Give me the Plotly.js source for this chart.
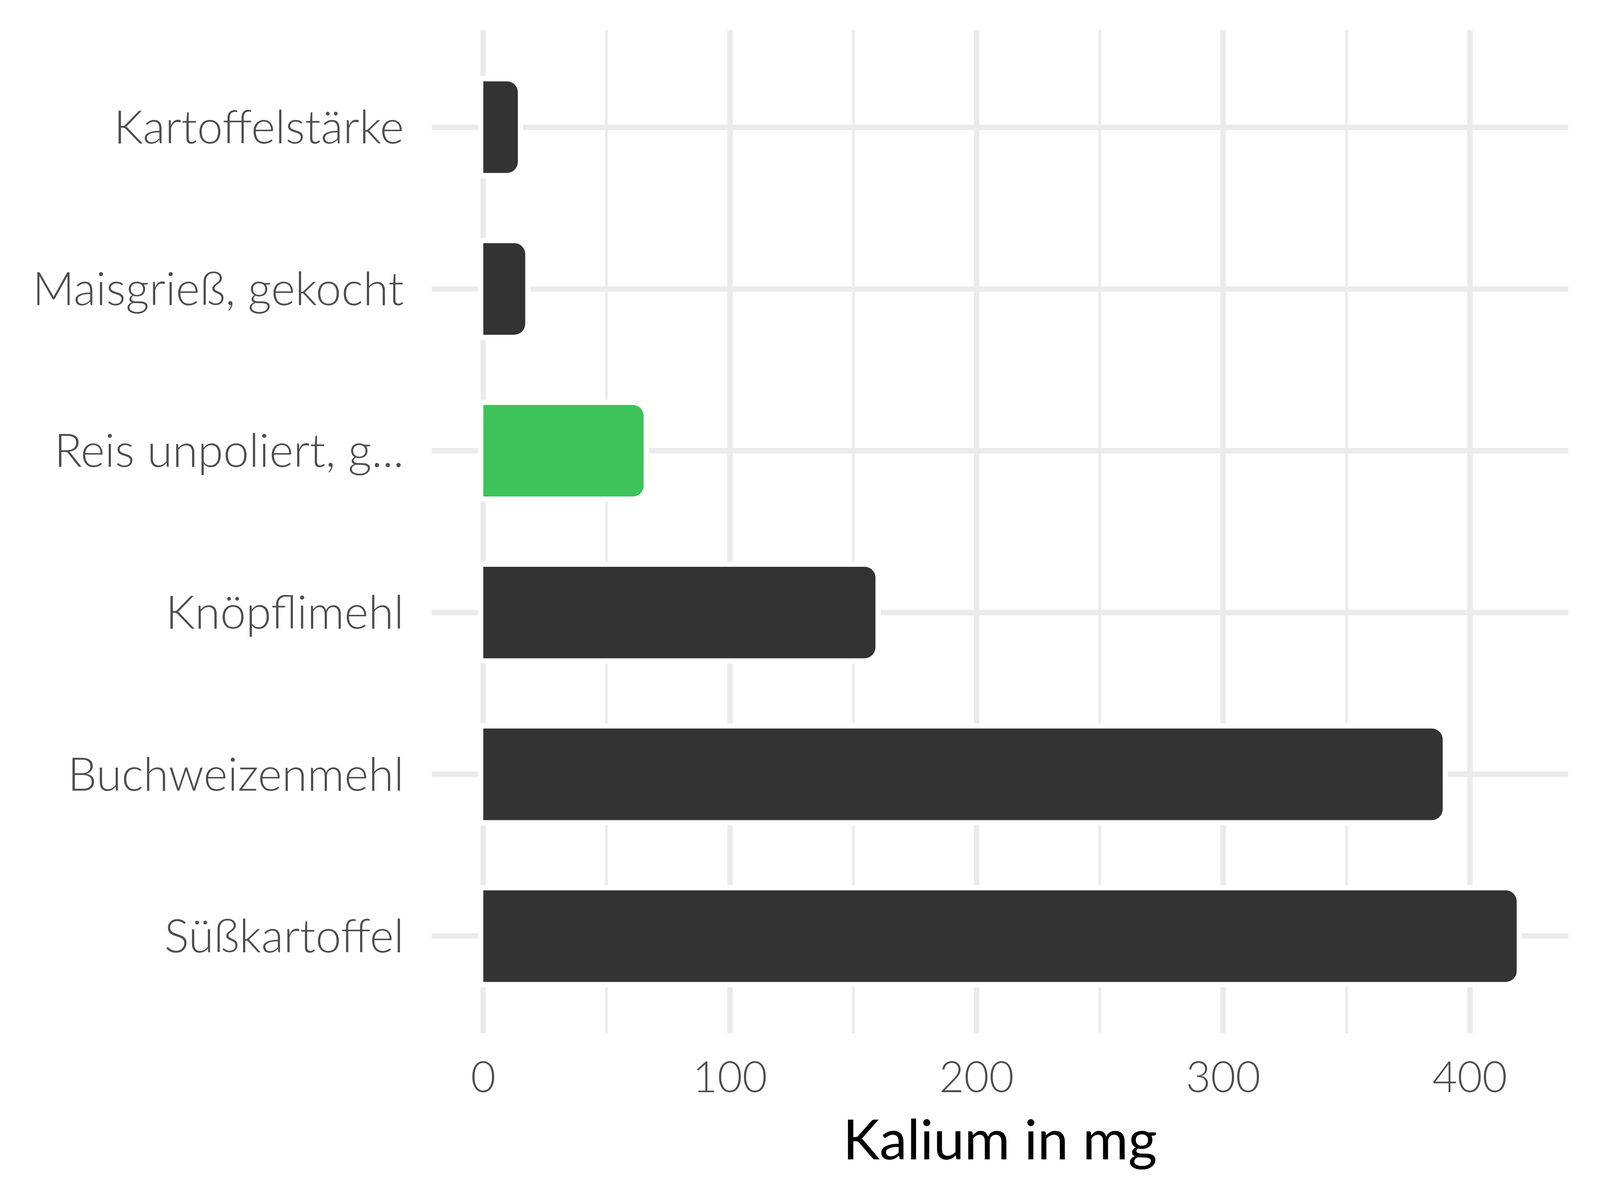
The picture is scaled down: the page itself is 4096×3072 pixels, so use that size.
<!DOCTYPE html>
<html>
<head>
<meta charset="utf-8">
<script src="https://cdn.plot.ly/plotly-3.0.1.min.js"></script>
<style>html,body{margin:0;padding:0;background:#fff;}#chart{width:4096px;height:3072px;}</style>
</head>
<body>
<div id="chart"></div>
<script>
const categories = ["Kartoffelstärke", "Maisgrieß, gekocht", "Reis unpoliert, g...", "Knöpflimehl", "Buchweizenmehl", "Süßkartoffel"];
const values = [14, 17, 65, 159, 389, 419];
const barColors = ["#333333", "#333333", "#3EC35A", "#333333", "#333333", "#333333"];
const xTickValues = [0, 100, 200, 300, 400];
const xTitle = "Kalium in mg";

const barWidth = 0.566;
const halo = {
  type: "bar", orientation: "h", x: values, y: categories, width: barWidth,
  marker: {color: "#FFFFFF", cornerradius: 28, line: {color: "#FFFFFF", width: 27}},
  hoverinfo: "skip", showlegend: false
};
const bars = {
  type: "bar", orientation: "h", x: values, y: categories, width: barWidth,
  marker: {color: barColors, cornerradius: 28, line: {width: 0}},
  showlegend: false
};
const layout = {
  width: 4096, height: 3072,
  paper_bgcolor: "#FFFFFF", plot_bgcolor: "#FFFFFF",
  margin: {l: 1105, r: 81, t: 77, b: 427, pad: 0},
  barmode: "overlay",
  showlegend: false,
  font: {family: "Lato, 'Open Sans', sans-serif", color: "#4D4D4D"},
  xaxis: {
    range: [-20.95, 439.95], tickvals: xTickValues, ticktext: xTickValues.map(String),
    showgrid: true, gridcolor: "#EBEBEB", gridwidth: 14, zeroline: false, showline: false,
    ticks: "", ticklabelstandoff: 40,
    tickfont: {size: 110, color: "#4D4D4D", family: "Lato, sans-serif", weight: 300},
    minor: {dtick: 50, tick0: 0, showgrid: true, gridcolor: "#EBEBEB", gridwidth: 7, ticks: ""},
    title: {text: xTitle, font: {size: 142, color: "#000000", family: "Lato, sans-serif"}, standoff: 50}
  },
  yaxis: {
    type: "category", categoryorder: "array", categoryarray: categories,
    range: [5.6, -0.6], showgrid: true, gridcolor: "#EBEBEB", gridwidth: 14,
    zeroline: false, showline: false, ticks: "", ticklabelstandoff: 70,
    tickfont: {size: 118, color: "#4D4D4D", family: "Lato, sans-serif", weight: 300}
  }
};
Plotly.newPlot("chart", [halo, bars], layout, {staticPlot: true, displayModeBar: false});
</script>
</body>
</html>
